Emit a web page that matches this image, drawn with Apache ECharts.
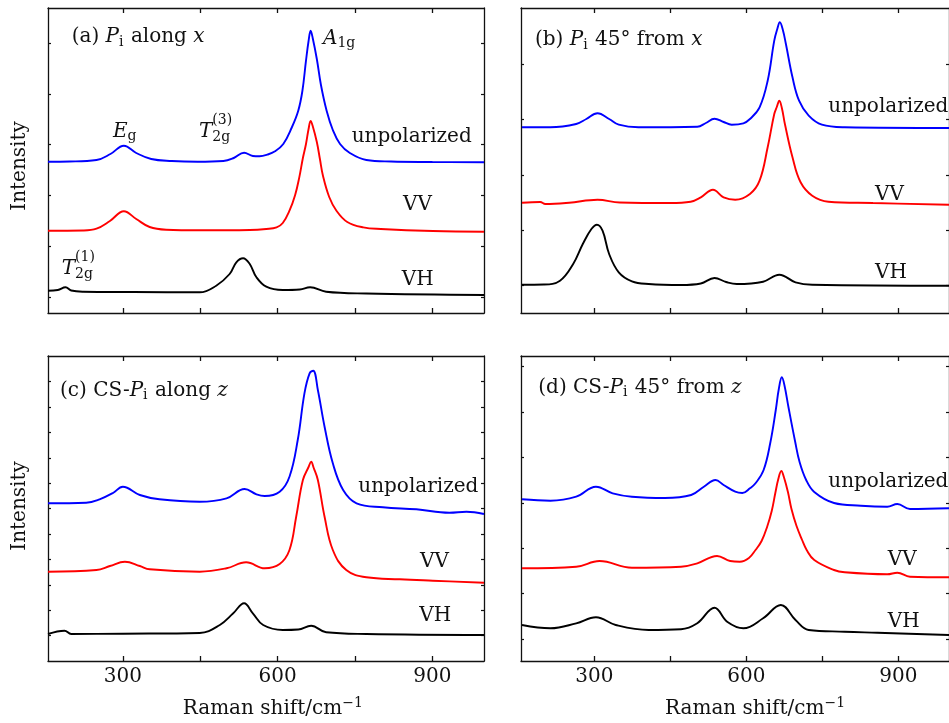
<!DOCTYPE html>
<html>
<head>
<meta charset="utf-8">
<script src="https://cdn.jsdelivr.net/npm/echarts@6/dist/echarts.min.js"></script>
<style>
  html, body { margin: 0; padding: 0; background: #fff; }
  #main { width: 949px; height: 723px; }
</style>
</head>
<body>
<div id="main"></div>
<script>
// Raman shift range and ticks
var xMin = 155, xMax = 1000;
var xTickVals = [300, 450, 600, 750, 900];
var xLabelVals = [300, 600, 900];

// intensity ticks (arbitrary units) for each panel
var aTicks = [15.6, 66.5, 117.4, 168.3, 219.2, 270.1];
var bTicks = [27.3, 82.7, 138.1, 193.5, 248.9];
var cTicks = [25.4, 50.8, 76.2, 101.6, 127, 152.4, 177.8, 203.2, 228.6, 254, 279.4];
var dTicks = [22, 67.4, 112.8, 158.2, 203.6, 249, 294.4];

// (a) Pi along x
var aUnpX = [155,197,249,276,302,326,355,395,445,495,515,535,552,565,580,595,611,627,640,648,655,660,664,668,676,684,695,707,721,740,772,820,900,1000];
var aUnpY = [151.3,151.5,153,159,167.3,160,154,152,151.3,152,155,160.3,157,156.7,158.3,161.7,169,185,202.3,222,252.3,272,282.3,275,254,228,202.3,183,169,160,153,151.5,151,150.7];
var aVvX = [155,223,249,275,302,326,352,384,449,546,578,598,610,623,634,642,649,655,660,664,668,676,682,688,700,714,735,766,800,901,1000];
var aVvY = [82.3,82.5,84.3,92,101.7,94,86,83.3,82.7,83,84,85.6,90,102.3,118,135.6,155,169,184,192,187,171,154,137,116,102.3,91,85.6,84,82,81.3];
var aVhX = [155,174,189,200,223,320,449,481,507,520,533,546,559,578,610,643,663,694,772,1000];
var aVhY = [22.3,23,25.7,22.5,21.3,21,20.7,27.3,39,50.7,54.7,49,35.7,26.3,23,23.5,25.7,21.3,19.5,18];

// (b) Pi 45 deg from x
var bUnpX = [157,213,264,284,306,329,348,387,503,520,537,555,571,594,607,626,642,655,661,666,672,678,691,704,723,749,794,1000];
var bUnpY = [185.7,185.7,189,194,199.7,194,188.3,185.7,186.3,190,194.3,191,188.3,189.7,194,205.7,232.3,272.3,284,290.7,283,269,235.7,212.3,197.3,188.3,185.7,185];
var bVvX = [157,193,203,250,306,350,450,490,510,534,555,578,607,626,642,655,660,665,670,676,691,707,730,762,850,1000];
var bVvY = [110.3,111,109,110.3,113.3,110.5,110,111.3,115.7,123.3,115.7,113.3,119,132.3,165.7,199,206,212.3,205,189,155.7,130.7,117.3,111.3,110,108.3];
var bVhX = [157,200,232,258,277,294,305,316,329,348,374,407,471,510,537,560,581,633,665,697,730,1000];
var bVhY = [28.3,28.5,32.3,49,69,84,88.3,82.3,59,40.7,31.7,29,28,29.5,35,31,29,31.3,38.3,30.7,28.3,27.3];

// (c) CS-Pi along z
var cUnpX = [155,229,255,281,300,333,371,449,501,536,559,575,604,623,639,652,662,669,678,691,707,727,753,804,869,933,966,1000];
var cUnpY = [157.7,158.3,161.7,168,174.3,166,161.7,159.3,162.7,172,166.7,165,169.3,184.3,221,267.7,287.7,290.3,271,234.3,197.7,171,157.7,153.7,151.7,148.3,149.3,147];
var cVvX = [155,249,275,304,333,352,449,501,539,575,604,623,636,649,660,665,670,678,691,707,733,772,837,901,1000];
var cVvY = [89.3,91,95,99.3,95,91.7,89.3,92.7,98.7,92.7,97,111,144.3,181,194,199.3,193,181,144.3,111,91,83.7,81.7,80.3,78.3];
var cVhX = [155,187,200,300,449,488,514,535,552,572,610,640,665,694,772,1000];
var cVhY = [27,30.3,27,27.3,28,36,47.7,57.7,47.7,36,31,31.5,35.3,28.7,27,26];

// (d) CS-Pi 45 deg from z
var dUnpX = [157,213,264,303,336,374,439,491,516,539,555,578,592,607,618,634,647,658,664,670,675,683,696,705,718,734,773,826,878,898,923,1000];
var dUnpY = [161.7,160.3,164.3,174.3,167.7,164.3,163,166,174.3,181,176,169.3,168,172.7,177.7,191,217.7,251,272,283.7,276,254,220,199,181,169,158,155.3,154.3,157,152,152.7];
var dVvX = [157,264,310,374,471,503,542,568,587,605,618,630,641,650,657,663,669,674,682,689,699,710,719,734,773,794,878,898,923,1000];
var dVvY = [92.7,94.3,100,93.3,94.3,97.7,105,100,99.3,103,111,120,134.3,150,167.7,182,190,184,169,152,135,121,111,101,91,88.7,86.7,88.3,84.3,83.7];
var dVhX = [157,213,264,303,342,407,471,503,537,562,594,633,668,697,723,794,859,1000];
var dVhY = [36,32.7,37.7,43.7,36,31,31.7,37.7,53.3,39.3,32.7,42.7,56,41,31,29.3,28.3,26];

var ink = '#111';
var serif = '"DejaVu Serif"';

var chart = echarts.init(document.getElementById('main'));

var grids = [
  { left: 48, top: 8, width: 436, height: 305 },
  { left: 521, top: 8, width: 436, height: 305 },
  { left: 48, top: 356, width: 436, height: 305 },
  { left: 521, top: 356, width: 436, height: 305 }
];
var yTicks = [aTicks, bTicks, cTicks, dTicks];

function xAx(g, pos, labels) {
  return {
    type: 'value', gridIndex: g, position: pos, min: xMin, max: xMax,
    axisLine: { show: true, onZero: false, lineStyle: { color: ink, width: 1.3 } },
    axisTick: { show: true, inside: true, length: 5, customValues: xTickVals, lineStyle: { color: ink, width: 1.3 } },
    axisLabel: { show: labels, customValues: xLabelVals, margin: 6, color: ink, fontFamily: serif, fontSize: 20 },
    splitLine: { show: false }
  };
}
function yAx(g, pos) {
  return {
    type: 'value', gridIndex: g, position: pos, min: 0, max: 305,
    axisLine: { show: true, onZero: false, lineStyle: { color: ink, width: 1.3 } },
    axisTick: { show: true, inside: true, length: 3, customValues: yTicks[g], lineStyle: { color: ink, width: 1.2 } },
    axisLabel: { show: false },
    splitLine: { show: false }
  };
}

var xAxes = [], yAxes = [];
for (var i = 0; i < 4; i++) xAxes.push(xAx(i, 'bottom', i >= 2));
for (var i = 0; i < 4; i++) xAxes.push(xAx(i, 'top', false));
for (var i = 0; i < 4; i++) yAxes.push(yAx(i, 'left'));
for (var i = 0; i < 4; i++) yAxes.push(yAx(i, 'right'));

function pairs(xs, ys) {
  return xs.map(function (v, k) { return [v, ys[k]]; });
}
function spectrum(name, g, xs, ys, color) {
  return {
    name: name, type: 'line', xAxisIndex: g, yAxisIndex: g,
    data: pairs(xs, ys), showSymbol: false, smooth: 0.4,
    lineStyle: { color: color, width: 1.9 }, silent: true
  };
}

var series = [
  spectrum('unpolarized', 0, aUnpX, aUnpY, '#0000ff'),
  spectrum('VV', 0, aVvX, aVvY, '#ff0000'),
  spectrum('VH', 0, aVhX, aVhY, '#000000'),
  spectrum('unpolarized', 1, bUnpX, bUnpY, '#0000ff'),
  spectrum('VV', 1, bVvX, bVvY, '#ff0000'),
  spectrum('VH', 1, bVhX, bVhY, '#000000'),
  spectrum('unpolarized', 2, cUnpX, cUnpY, '#0000ff'),
  spectrum('VV', 2, cVvX, cVvY, '#ff0000'),
  spectrum('VH', 2, cVhX, cVhY, '#000000'),
  spectrum('unpolarized', 3, dUnpX, dUnpY, '#0000ff'),
  spectrum('VV', 3, dVvX, dVvY, '#ff0000'),
  spectrum('VH', 3, dVhX, dVhY, '#000000')
];

// text with italic / sub / superscripts, laid out piece by piece
var meas = document.createElement('canvas').getContext('2d');
function fontOf(kind, size) {
  return (kind === 'it' ? 'italic ' : '') + size + 'px ' + serif;
}
function textW(t, f) { meas.font = f; return meas.measureText(t).width; }
function piece(t, x, base, f, size) {
  return {
    type: 'text', x: x, y: base - 0.32 * size, silent: true,
    style: { text: t, font: f, fill: ink, align: 'left', verticalAlign: 'middle' }
  };
}
function mathText(x, base, parts) {
  var els = [], cx = x;
  parts.forEach(function (p) {
    var t = p[0], kind = p[1];
    if (kind === 'sub' || kind === 'sup' || kind === 'subsup') {
      var f = fontOf('rm', 14), w = 0;
      if (kind !== 'sup') {
        els.push(piece(t, cx, base + (kind === 'sub' ? 3 : 4), f, 14));
        w = textW(t, f);
      }
      var s = kind === 'sup' ? t : p[2];
      if (s) {
        els.push(piece(s, cx, base - (kind === 'sup' ? 8 : 13), f, 14));
        w = Math.max(w, textW(s, f));
      }
      cx += w + 1;
    } else {
      var f2 = fontOf(kind, 20);
      els.push(piece(t, cx, base, f2, 20));
      cx += textW(t, f2);
    }
  });
  return els;
}

var graphic = [].concat(
  mathText(71.7, 43.5, [['(a) ', 'rm'], ['P', 'it'], ['i', 'sub'], [' along ', 'rm'], ['x', 'it']]),
  mathText(323, 45, [['A', 'it'], ['1g', 'sub']]),
  mathText(113, 137.7, [['E', 'it'], ['g', 'sub']]),
  mathText(199, 137.7, [['T', 'it'], ['2g', 'subsup', '(3)']]),
  mathText(61.7, 275, [['T', 'it'], ['2g', 'subsup', '(1)']]),
  mathText(351.7, 143.3, [['unpolarized', 'rm']]),
  mathText(403, 210.7, [['VV', 'rm']]),
  mathText(401.7, 286, [['VH', 'rm']]),

  mathText(535, 46.5, [['(b) ', 'rm'], ['P', 'it'], ['i', 'sub'], [' 45° from ', 'rm'], ['x', 'it']]),
  mathText(828.3, 113.3, [['unpolarized', 'rm']]),
  mathText(875, 201, [['VV', 'rm']]),
  mathText(875, 279.3, [['VH', 'rm']]),

  mathText(60, 397, [['(c) CS-', 'rm'], ['P', 'it'], ['i', 'sub'], [' along ', 'rm'], ['z', 'it']]),
  mathText(358.3, 493.3, [['unpolarized', 'rm']]),
  mathText(420, 568.3, [['VV', 'rm']]),
  mathText(419.3, 621.7, [['VH', 'rm']]),

  mathText(538.3, 394, [['(d) CS-', 'rm'], ['P', 'it'], ['i', 'sub'], [' 45° from ', 'rm'], ['z', 'it']]),
  mathText(828.3, 488.3, [['unpolarized', 'rm']]),
  mathText(887.7, 566, [['VV', 'rm']]),
  mathText(887.7, 628.3, [['VH', 'rm']]),

  mathText(182.7, 715.5, [['Raman shift/cm', 'rm'], ['−1', 'sup']]),
  mathText(665, 715.5, [['Raman shift/cm', 'rm'], ['−1', 'sup']]),
  [
    { type: 'text', x: 20, y: 166, rotation: Math.PI / 2, silent: true,
      style: { text: 'Intensity', font: '20px ' + serif, fill: ink, align: 'center', verticalAlign: 'middle' } },
    { type: 'text', x: 20, y: 506, rotation: Math.PI / 2, silent: true,
      style: { text: 'Intensity', font: '20px ' + serif, fill: ink, align: 'center', verticalAlign: 'middle' } }
  ]
);

chart.setOption({
  animation: false,
  backgroundColor: '#fff',
  grid: grids,
  xAxis: xAxes,
  yAxis: yAxes,
  series: series,
  graphic: graphic
});
</script>
</body>
</html>
